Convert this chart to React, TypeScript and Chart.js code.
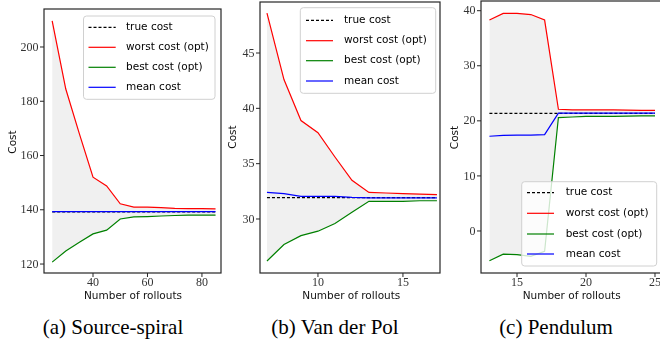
import React, { useEffect, useRef } from "react";
import { Chart, registerables } from "chart.js";

Chart.register(...registerables);

// ---------- data ----------
// (a) Source-spiral
const rolloutsA = [25, 30, 35, 40, 45, 50, 55, 60, 65, 70, 75, 80, 85];
const worstA = [209.6, 184.5, 168.0, 152.0, 148.8, 142.2, 141.0, 141.0, 140.8, 140.5, 140.4, 140.4, 140.3];
const bestA = [120.7, 124.8, 128.0, 131.1, 132.5, 136.6, 137.4, 137.5, 137.7, 137.9, 138.0, 138.0, 138.0];
const trueA = [139.2, 139.2, 139.2, 139.2, 139.2, 139.2, 139.2, 139.2, 139.2, 139.2, 139.2, 139.2, 139.2];
const meanA = [139.3, 139.3, 139.3, 139.3, 139.3, 139.3, 139.3, 139.3, 139.3, 139.3, 139.3, 139.3, 139.3];
const xTicksA = [40, 60, 80];
const yTicksA = [120, 140, 160, 180, 200];

// (b) Van der Pol
const rolloutsB = [7, 8, 9, 10, 11, 12, 13, 14, 15, 16, 17];
const worstB = [48.6, 42.6, 38.9, 37.8, 35.6, 33.5, 32.4, 32.35, 32.3, 32.25, 32.2];
const bestB = [26.2, 27.7, 28.5, 28.9, 29.6, 30.6, 31.6, 31.6, 31.6, 31.65, 31.65];
const trueB = [31.93, 31.93, 31.93, 31.93, 31.93, 31.93, 31.93, 31.93, 31.93, 31.93, 31.93];
const meanB = [32.4, 32.3, 32.05, 32.05, 32.05, 31.95, 31.9, 31.9, 31.9, 31.9, 31.9];
const xTicksB = [10, 15];
const yTicksB = [30, 35, 40, 45];

// (c) Pendulum
const rolloutsC = [13, 14, 15, 16, 17, 18, 19, 20, 21, 22, 23, 24, 25];
const worstC = [38.3, 39.5, 39.5, 39.3, 38.3, 22.1, 22.0, 22.0, 22.0, 22.0, 21.95, 21.9, 21.9];
const bestC = [-5.4, -4.2, -4.3, -4.6, -3.7, 20.6, 20.7, 20.8, 20.8, 20.8, 20.85, 20.9, 20.9];
const trueC = [21.35, 21.35, 21.35, 21.35, 21.35, 21.35, 21.35, 21.35, 21.35, 21.35, 21.35, 21.35, 21.35];
const meanC = [17.2, 17.35, 17.4, 17.4, 17.5, 21.4, 21.4, 21.4, 21.4, 21.4, 21.4, 21.4, 21.4];
const xTicksC = [15, 20, 25];
const yTicksC = [0, 10, 20, 30, 40];

const legendLabels = ["true cost", "worst cost (opt)", "best cost (opt)", "mean cost"];
const captions = ["(a) Source-spiral", "(b) Van der Pol", "(c) Pendulum"];
const xTitle = "Number of rollouts";
const yTitle = "Cost";

// ---------- styles ----------
const RED = "#ff0000";
const GREEN = "#008000";
const BLUE = "#0000ff";
const BLACK = "#000000";
const FILL = "#f0f0f0";
const FRAME = "#262626";

type PanelCfg = {
  left: number;
  width: number;
  height: number;
  pad: { top: number; right: number };
  yAxisW: number;
  xAxisH: number;
  xMin: number;
  xMax: number;
  yMin: number;
  yMax: number;
  xs: number[];
  worst: number[];
  best: number[];
  truth: number[];
  mean: number[];
  xTicks: number[];
  yTicks: number[];
  xTitleX: number;
  yTitleY: number;
  yTitleX: number;
  legend: { x0: number; x1: number; y0: number; y1: number; rows: number[]; lx0: number; lx1: number; tx: number };
};

const panels: PanelCfg[] = [
  {
    left: 0, width: 222, height: 310, pad: { top: 9, right: 1 }, yAxisW: 44, xAxisH: 37,
    xMin: 22.0, xMax: 87.0, yMin: 116.7, yMax: 214.0,
    xs: rolloutsA, worst: worstA, best: bestA, truth: trueA, mean: meanA,
    xTicks: xTicksA, yTicks: yTicksA, xTitleX: 133, yTitleY: 142, yTitleX: 13,
    legend: { x0: 83.5, x1: 215, y0: 16, y1: 99.3, rows: [27.3, 47.3, 67.3, 87.3], lx0: 88.5, lx1: 115.7, tx: 126 },
  },
  {
    left: 220, width: 222, height: 310, pad: { top: 2, right: 2 }, yAxisW: 40, xAxisH: 37,
    xMin: 6.59, xMax: 17.18, yMin: 25.12, yMax: 49.61,
    xs: rolloutsB, worst: worstB, best: bestB, truth: trueB, mean: meanB,
    xTicks: xTicksB, yTicks: yTicksB, xTitleX: 131.3, yTitleY: 137, yTitleX: 13.3,
    legend: { x0: 80.3, x1: 215.7, y0: 7.7, y1: 93.3, rows: [20.3, 40.7, 60.7, 81], lx0: 86, lx1: 113, tx: 124 },
  },
  {
    left: 440, width: 223, height: 310, pad: { top: 1, right: 0 }, yAxisW: 41, xAxisH: 37,
    xMin: 12.39, xMax: 25.58, yMin: -7.63, yMax: 41.76,
    xs: rolloutsC, worst: worstC, best: bestC, truth: trueC, mean: meanC,
    xTicks: xTicksC, yTicks: yTicksC, xTitleX: 131.7, yTitleY: 137.5, yTitleX: 15,
    legend: { x0: 81.7, x1: 216.7, y0: 181.7, y1: 266, rows: [192.7, 213.3, 234, 254], lx0: 87, lx1: 114, tx: 125.7 },
  },
];

function roundRectPath(ctx: CanvasRenderingContext2D, x: number, y: number, w: number, h: number, r: number) {
  ctx.beginPath();
  ctx.moveTo(x + r, y);
  ctx.lineTo(x + w - r, y);
  ctx.arcTo(x + w, y, x + w, y + r, r);
  ctx.lineTo(x + w, y + h - r);
  ctx.arcTo(x + w, y + h, x + w - r, y + h, r);
  ctx.lineTo(x + r, y + h);
  ctx.arcTo(x, y + h, x, y + h - r, r);
  ctx.lineTo(x, y + r);
  ctx.arcTo(x, y, x + r, y, r);
  ctx.closePath();
}

function decorPlugin(cfg: PanelCfg) {
  return {
    id: "decor",
    afterDraw(chart: any) {
      const ctx: CanvasRenderingContext2D = chart.ctx;
      const a = chart.chartArea;
      const xs = chart.scales.x;
      const ys = chart.scales.y;
      ctx.save();
      // frame
      ctx.strokeStyle = FRAME;
      ctx.lineWidth = 1.2;
      ctx.strokeRect(a.left, a.top, a.right - a.left, a.bottom - a.top);
      // tick marks
      ctx.beginPath();
      for (const v of cfg.xTicks) {
        const p = xs.getPixelForValue(v);
        ctx.moveTo(p, a.bottom);
        ctx.lineTo(p, a.bottom + 4);
      }
      for (const v of cfg.yTicks) {
        const p = ys.getPixelForValue(v);
        ctx.moveTo(a.left, p);
        ctx.lineTo(a.left - 4, p);
      }
      ctx.lineWidth = 1;
      ctx.stroke();
      // tick labels
      ctx.fillStyle = "#333333";
      ctx.font = '12px "Liberation Serif"';
      ctx.textAlign = "center";
      ctx.textBaseline = "alphabetic";
      for (const v of cfg.xTicks) {
        const p = xs.getPixelForValue(v);
        ctx.fillText(String(v), p, a.bottom + 12.5);
      }
      ctx.textAlign = "right";
      ctx.textBaseline = "middle";
      for (const v of cfg.yTicks) {
        const p = ys.getPixelForValue(v);
        ctx.fillText(String(v), a.left - 5.5, p + 0.5);
      }
      // axis titles
      ctx.fillStyle = "#111111";
      ctx.font = '10.5px "DejaVu Sans"';
      ctx.textAlign = "center";
      ctx.textBaseline = "alphabetic";
      ctx.fillText(xTitle, cfg.xTitleX, 299);
      ctx.save();
      ctx.translate(cfg.yTitleX, cfg.yTitleY);
      ctx.rotate(-Math.PI / 2);
      ctx.textBaseline = "middle";
      ctx.fillText(yTitle, 0, 0);
      ctx.restore();
      // legend
      const L = cfg.legend;
      roundRectPath(ctx, L.x0, L.y0, L.x1 - L.x0, L.y1 - L.y0, 3);
      ctx.fillStyle = "rgba(255,255,255,0.8)";
      ctx.fill();
      ctx.strokeStyle = "#d0d0d0";
      ctx.lineWidth = 1;
      ctx.stroke();
      const colors = [BLACK, RED, GREEN, BLUE];
      ctx.font = '10.5px "DejaVu Sans"';
      ctx.textAlign = "left";
      ctx.textBaseline = "middle";
      legendLabels.forEach((lab, i) => {
        const y = L.rows[i];
        ctx.beginPath();
        ctx.setLineDash(i === 0 ? [3, 2] : []);
        ctx.strokeStyle = colors[i];
        ctx.lineWidth = 1.2;
        ctx.moveTo(L.lx0, y);
        ctx.lineTo(L.lx1, y);
        ctx.stroke();
        ctx.setLineDash([]);
        ctx.fillStyle = "#000000";
        ctx.fillText(lab, L.tx, y);
      });
      ctx.restore();
    },
  };
}

function buildChart(canvas: HTMLCanvasElement, cfg: PanelCfg) {
  const pts = (arr: number[]) => cfg.xs.map((x, i) => ({ x, y: arr[i] }));
  return new Chart(canvas, {
    type: "line",
    data: {
      datasets: [
        { label: legendLabels[1], data: pts(cfg.worst), borderColor: RED, borderWidth: 1.2, pointRadius: 0, fill: "+1", backgroundColor: FILL, order: 2 },
        { label: legendLabels[2], data: pts(cfg.best), borderColor: GREEN, borderWidth: 1.2, pointRadius: 0, fill: false, order: 1 },
        { label: legendLabels[0], data: pts(cfg.truth), borderColor: BLACK, borderWidth: 1.1, borderDash: [3, 2], pointRadius: 0, fill: false, order: 3 },
        { label: legendLabels[3], data: pts(cfg.mean), borderColor: BLUE, borderWidth: 1.2, pointRadius: 0, fill: false, order: 0 },
      ],
    } as any,
    options: {
      animation: false,
      responsive: false,
      maintainAspectRatio: false,
      devicePixelRatio: 1,
      events: [],
      layout: { padding: { top: cfg.pad.top, right: cfg.pad.right, left: 0, bottom: 0 } },
      plugins: {
        legend: { display: false },
        tooltip: { enabled: false },
        filler: { drawTime: "beforeDatasetsDraw" },
      } as any,
      scales: {
        x: {
          type: "linear",
          min: cfg.xMin,
          max: cfg.xMax,
          grid: { display: false },
          border: { display: false },
          ticks: { display: false },
          afterFit: (s: any) => { s.height = cfg.xAxisH; },
        },
        y: {
          type: "linear",
          min: cfg.yMin,
          max: cfg.yMax,
          grid: { display: false },
          border: { display: false },
          ticks: { display: false },
          afterFit: (s: any) => { s.width = cfg.yAxisW; },
        },
      } as any,
    },
    plugins: [decorPlugin(cfg) as any],
  });
}

export default function App() {
  const refs = [useRef<HTMLCanvasElement>(null), useRef<HTMLCanvasElement>(null), useRef<HTMLCanvasElement>(null)];
  useEffect(() => {
    const charts = panels.map((cfg, i) => buildChart(refs[i].current as HTMLCanvasElement, cfg));
    return () => charts.forEach((c) => c.destroy());
  }, []);

  const captionCenters = [113, 335, 556];
  return (
    <div style={{ position: "fixed", left: 0, top: 0, width: 660, height: 345, overflow: "hidden", background: "#ffffff" }}>
      {panels.map((cfg, i) => (
        <canvas
          key={i}
          ref={refs[i]}
          width={cfg.width}
          height={cfg.height}
          style={{ position: "absolute", left: cfg.left, top: 0, width: cfg.width, height: cfg.height }}
        />
      ))}
      {captions.map((c, i) => (
        <div
          key={c}
          style={{
            position: "absolute",
            left: captionCenters[i] - 110,
            width: 220,
            top: 317,
            textAlign: "center",
            font: '21px "Liberation Serif"',
            lineHeight: "21px",
            color: "#000",
            whiteSpace: "nowrap",
          }}
        >
          {c}
        </div>
      ))}
    </div>
  );
}
